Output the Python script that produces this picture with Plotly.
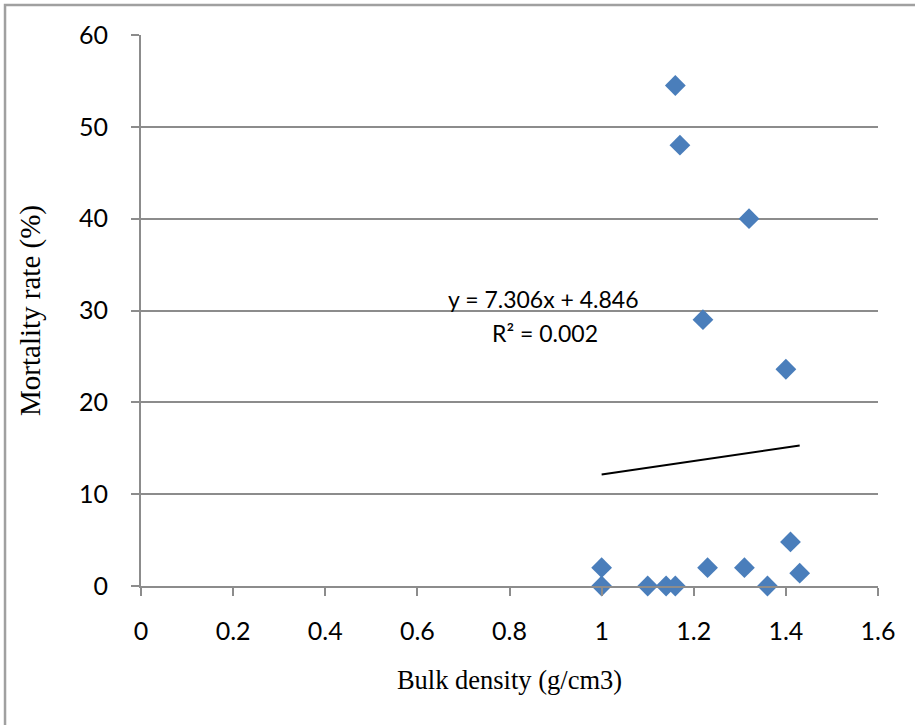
import plotly.graph_objects as go

# Bulk density (g/cm3) and mortality rate (%) per sample
bulk_density = [1.00, 1.00, 1.10, 1.14, 1.16, 1.16, 1.17, 1.22, 1.23, 1.31, 1.32, 1.36, 1.40, 1.41, 1.43]
mortality = [2.0, 0.0, 0.0, 0.0, 0.0, 54.5, 48.0, 29.0, 2.0, 2.0, 40.0, 0.0, 23.6, 4.8, 1.4]

# Linear trendline coefficients as reported
slope = 7.306
intercept = 4.846
r_squared = 0.002

x_ticks = [0, 0.2, 0.4, 0.6, 0.8, 1, 1.2, 1.4, 1.6]
x_tick_labels = ["0", "0.2", "0.4", "0.6", "0.8", "1", "1.2", "1.4", "1.6"]
y_ticks = [0, 10, 20, 30, 40, 50, 60]
y_tick_labels = ["0", "10", "20", "30", "40", "50", "60"]

trend_x = [min(bulk_density), max(bulk_density)]
trend_y = [slope * v + intercept for v in trend_x]

grey = "#8c8c8c"
tick_font = dict(family="Lato, Carlito, Calibri, sans-serif", size=25, color="#000000")
eq_font = dict(family="Lato, Carlito, Calibri, sans-serif", size=23, color="#000000")
x_title_font = dict(family="Liberation Serif, Times New Roman, serif", size=26.5, color="#000000")
y_title_font = dict(family="Liberation Serif, Times New Roman, serif", size=29, color="#000000")

fig = go.Figure()

fig.add_trace(go.Scatter(
    x=trend_x, y=trend_y, mode="lines",
    line=dict(color="#000000", width=2),
    hoverinfo="skip", showlegend=False,
))

fig.add_trace(go.Scatter(
    x=bulk_density, y=mortality, mode="markers",
    marker=dict(symbol="diamond", size=16, color="#4a7ebb",
                line=dict(width=0)),
    cliponaxis=False, showlegend=False,
))

fig.add_annotation(
    x=0.873, y=31.2, xref="x", yref="y",
    text=f"y = {slope:.3f}x + {intercept:.3f}",
    showarrow=False, font=eq_font, xanchor="center", yanchor="middle",
)
fig.add_annotation(
    x=0.877, y=27.6, xref="x", yref="y",
    text=f"R² = {r_squared:.3f}",
    showarrow=False, font=eq_font, xanchor="center", yanchor="middle",
)

# Outer chart border
fig.add_shape(
    type="rect", xref="paper", yref="paper",
    x0=-0.1845, x1=1.06, y0=-0.27, y1=1.0544,
    line=dict(color="#a0a0a0", width=2.5), fillcolor="rgba(0,0,0,0)",
    layer="below",
)

fig.update_layout(
    width=915, height=725,
    margin=dict(l=141, r=37, t=35, b=139, autoexpand=False),
    paper_bgcolor="#ffffff", plot_bgcolor="#ffffff",
    showlegend=False,
)

fig.update_xaxes(
    range=[0, 1.6], tickmode="array", tickvals=x_ticks, ticktext=x_tick_labels,
    showgrid=False, zeroline=False,
    showline=True, linecolor=grey, linewidth=2,
    ticks="outside", ticklen=8, tickwidth=2, tickcolor=grey,
    tickfont=tick_font, ticklabelstandoff=14,
    title=dict(text="Bulk density (g/cm3)", font=x_title_font, standoff=26),
)
fig.update_yaxes(
    range=[0, 60], tickmode="array", tickvals=y_ticks, ticktext=y_tick_labels,
    showgrid=True, gridcolor=grey, gridwidth=2, zeroline=False,
    showline=True, linecolor=grey, linewidth=2,
    ticks="outside", ticklen=8, tickwidth=2, tickcolor=grey,
    tickfont=tick_font, ticklabelstandoff=18,
    title=dict(text="Mortality rate (%)", font=y_title_font, standoff=30),
)

fig.write_html("out.html")
